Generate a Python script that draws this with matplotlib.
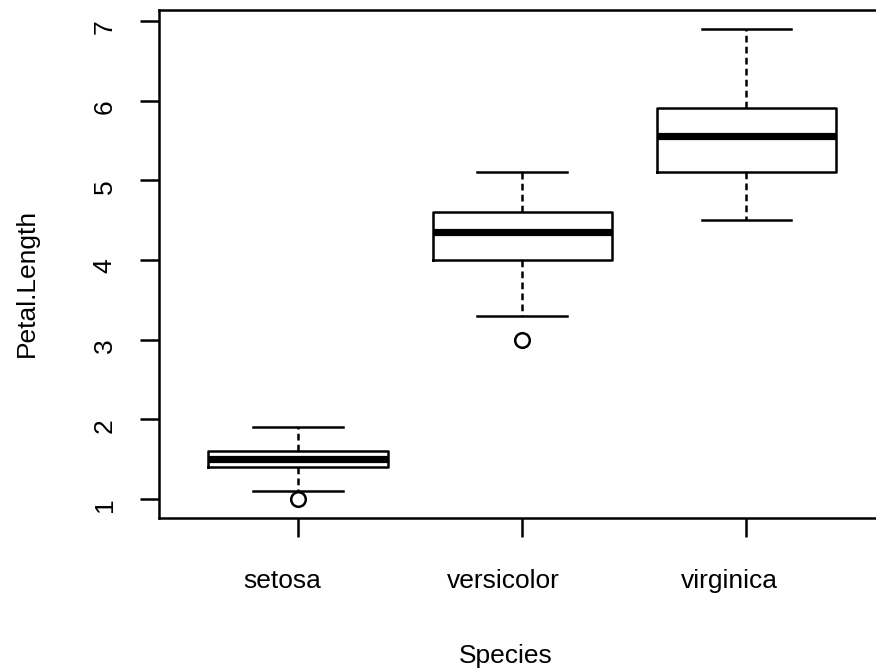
import matplotlib
matplotlib.use("Agg")
import matplotlib.pyplot as plt
from matplotlib.transforms import offset_copy

# iris Petal.Length by Species (R-style boxplot stats)
species = ["setosa", "versicolor", "virginica"]
whisker_low = [1.1, 3.3, 4.5]
q1 = [1.4, 4.0, 5.1]
median = [1.5, 4.35, 5.55]
q3 = [1.6, 4.6, 5.9]
whisker_high = [1.9, 5.1, 6.9]
outliers = [[1.0], [3.0], []]
y_ticks = [1, 2, 3, 4, 5, 6, 7]

stats = []
for i, s in enumerate(species):
    stats.append(dict(label=s, whislo=whisker_low[i], q1=q1[i], med=median[i],
                      q3=q3[i], whishi=whisker_high[i], fliers=outliers[i]))

plt.rcParams['font.family'] = ['Liberation Sans', 'DejaVu Sans']
FS = 19
LW = 1.8

W, H = 876, 672
fig = plt.figure(figsize=(W / 100, H / 100), dpi=100)
left, right, top, bottom = 159, 885.4, 10, 517.7
ax = fig.add_axes([left / W, 1 - bottom / H, (right - left) / W, (bottom - top) / H])

pos = list(range(1, len(species) + 1))
ax.bxp(stats, positions=pos, widths=0.8, capwidths=0.4, manage_ticks=False,
       boxprops=dict(lw=LW, color='black'),
       medianprops=dict(lw=5.2, color='black', solid_capstyle='butt'),
       whiskerprops=dict(lw=LW, ls=(0, (2.7, 1.7)), color='black'),
       capprops=dict(lw=LW, color='black'),
       flierprops=dict(marker='o', markersize=10.5, markerfacecolor='none',
                       markeredgecolor='black', markeredgewidth=LW))

ax.set_xlim(0.38, 3.62)
ax.set_ylim(0.764, 7.136)
ax.set_xticks(pos)
ax.set_yticks(y_ticks)
ax.set_xticklabels([])
ax.set_yticklabels([])

for sp in ax.spines.values():
    sp.set_linewidth(LW)
ax.tick_params(axis='both', length=13.7, width=LW)

# tick labels, placed like the reference draws them (pixel offsets from the axis)
x_shift = [-15.5, -18.7, -17]
for p, s, dx in zip(pos, species, x_shift):
    tr = offset_copy(ax.get_xaxis_transform(), fig=fig, x=dx, y=-70.6, units='dots')
    ax.text(p, 0, s, transform=tr, ha='center', va='baseline', fontsize=FS)

for v in y_ticks:
    tr = offset_copy(ax.get_yaxis_transform(), fig=fig, x=-47.3, y=-6, units='dots')
    ax.text(0, v, str(v), transform=tr, ha='center', va='baseline',
            rotation=90, rotation_mode='anchor', fontsize=FS)

fig.text(505.5 / W, 1 - 663 / H, "Species", ha='center', va='baseline', fontsize=FS)
fig.text(33.7 / W, 1 - 283.4 / H, "Petal.Length", ha='center', va='baseline',
         rotation=90, rotation_mode='anchor', fontsize=FS)

fig.savefig("out.png", dpi=100)
